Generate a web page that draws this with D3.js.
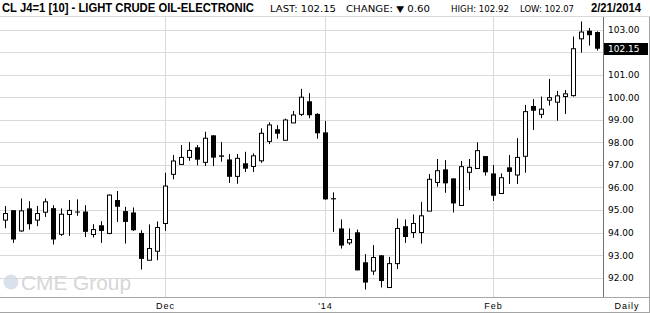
<!DOCTYPE html>
<html>
<head>
<meta charset="utf-8">
<script src="https://cdn.jsdelivr.net/npm/d3@7"></script>
<style>
  body { margin: 0; background: #fff; }
  svg { display: block; font-family: "Liberation Sans", Arial, sans-serif; }
  .small { font-family: "DejaVu Sans", Verdana, sans-serif; }
</style>
</head>
<body>
<svg id="chart" width="650" height="314"></svg>
<script>
// trading days, Nov 1 2013 .. Feb 21 2014
const dates = [
  "2013-11-01","2013-11-04","2013-11-05","2013-11-06","2013-11-07","2013-11-08",
  "2013-11-11","2013-11-12","2013-11-13","2013-11-14","2013-11-15",
  "2013-11-18","2013-11-19","2013-11-20","2013-11-21","2013-11-22",
  "2013-11-25","2013-11-26","2013-11-27","2013-11-29",
  "2013-12-02","2013-12-03","2013-12-04","2013-12-05","2013-12-06",
  "2013-12-09","2013-12-10","2013-12-11","2013-12-12","2013-12-13",
  "2013-12-16","2013-12-17","2013-12-18","2013-12-19","2013-12-20",
  "2013-12-23","2013-12-24","2013-12-27","2013-12-30","2013-12-31",
  "2014-01-02","2014-01-03","2014-01-06","2014-01-07","2014-01-08","2014-01-09","2014-01-10",
  "2014-01-13","2014-01-14","2014-01-15","2014-01-16","2014-01-17",
  "2014-01-21","2014-01-22","2014-01-23","2014-01-24",
  "2014-01-27","2014-01-28","2014-01-29","2014-01-30","2014-01-31",
  "2014-02-03","2014-02-04","2014-02-05","2014-02-06","2014-02-07",
  "2014-02-10","2014-02-11","2014-02-12","2014-02-13","2014-02-14",
  "2014-02-18","2014-02-19","2014-02-20","2014-02-21"
];

const open = [
  94.55,94.99,94.07,95.07,94.55,94.90,95.08,93.92,94.80,94.93,94.93,93.91,94.32,93.96,95.44,
  94.95,94.89,93.98,92.77,93.17,94.40,96.58,97.02,97.33,97.78,97.11,98.31,97.42,97.24,96.49,
  97.07,96.93,97.18,98.04,98.58,98.09,98.86,99.24,99.82,99.26,98.44,95.52,94.18,93.54,94.01,
  92.68,92.29,92.99,91.56,92.62,94.28,94.00,94.00,94.95,96.22,96.80,96.40,95.20,96.67,96.84,
  97.39,96.62,95.73,96.89,96.55,97.38,99.61,99.24,99.87,99.78,100.03,100.07,102.59,102.95,102.89
];
const high = [
  95.17,94.99,95.51,95.39,95.18,95.51,95.21,95.07,95.44,95.47,95.21,94.37,94.50,95.69,95.84,
  95.14,95.11,94.10,94.36,94.49,96.65,97.44,97.88,98.01,97.88,98.47,98.31,98.01,97.48,97.48,
  97.58,97.51,98.62,98.89,98.76,99.05,99.39,100.37,100.18,99.29,98.95,95.78,94.58,94.18,94.13,
  93.04,93.44,92.99,92.92,94.62,94.58,94.80,95.36,96.59,97.26,97.21,96.40,97.17,97.26,98.00,
  97.39,96.99,96.62,97.44,98.18,99.66,99.92,100.03,100.81,100.28,100.32,102.69,103.36,103.07,102.92
];
const low = [
  94.19,93.54,94.03,94.13,94.28,94.69,93.47,93.85,93.85,94.74,93.80,93.78,93.54,93.92,94.47,
  93.51,94.07,92.36,92.77,92.77,94.07,96.36,97.02,97.18,96.98,96.95,96.95,97.14,96.20,96.16,
  96.68,96.68,97.09,97.92,98.16,98.09,98.86,99.16,99.07,98.16,95.45,94.03,93.29,93.45,92.32,
  91.47,92.12,91.56,91.56,92.38,93.54,93.76,93.51,94.95,96.03,95.76,94.89,95.20,95.88,96.84,
  96.52,95.40,95.73,96.15,96.15,96.65,98.55,99.07,99.63,98.96,99.26,100.03,101.98,102.29,102.07
];
const close = [
  94.84,93.69,94.96,94.37,94.84,95.36,93.69,94.81,94.98,94.89,94.03,94.13,94.07,95.66,95.14,
  94.47,94.10,92.83,93.29,94.22,96.06,97.17,97.33,97.64,97.23,98.18,97.32,97.36,96.47,97.29,
  96.83,97.40,98.40,98.77,98.38,98.99,99.21,100.00,99.20,98.40,95.47,95.47,93.42,93.69,92.32,
  91.78,92.89,91.85,92.62,94.18,93.80,94.40,94.74,96.36,96.74,96.18,95.29,96.92,96.89,97.63,
  96.67,95.63,96.43,96.69,97.33,99.36,99.40,99.47,99.98,100.06,100.15,102.15,102.89,102.75,102.15
];

const priceTicks = [92, 93, 94, 95, 96, 97, 98, 99, 100, 101, 102, 103];
const monthTickDates = ["2013-12-02", "2014-01-02", "2014-02-03"];
const monthTickLabels = ["Dec", "'14", "Feb"];

const lastPrice = 102.15;
const headerTitle = "CL J4=1 [10] - LIGHT CRUDE OIL-ELECTRONIC";

const width = 650, height = 314;
const plotTop = 17, plotBottom = 297, axisX = 603;

const svg = d3.select("#chart");

const x = d3.scalePoint().domain(dates).range([5.5, 597.5]);
const y = d3.scaleLinear().domain([91.14, 103.557]).range([plotBottom, plotTop]);

// ---- header
const header = svg.append("g");
header.append("text")
  .attr("x", 2).attr("y", 12)
  .attr("font-size", 12).attr("font-weight", "bold")
  .attr("textLength", 252).attr("lengthAdjust", "spacingAndGlyphs")
  .text(headerTitle);

const info = [
  { t: "LAST: 102.15", x: 270, w: 66 },
  { t: "CHANGE: \u25BC 0.60", x: 346, w: 84 },
  { t: "HIGH: 102.92", x: 451, w: 58 },
  { t: "LOW: 102.07", x: 520, w: 54 }
];
header.selectAll("text.info")
  .data(info)
  .enter().append("text")
  .attr("class", "info small")
  .attr("x", (d) => d.x).attr("y", 11.5)
  .attr("font-size", 9)
  .attr("textLength", (d) => d.w).attr("lengthAdjust", "spacingAndGlyphs")
  .text((d) => d.t);

header.append("text")
  .attr("x", 591).attr("y", 12)
  .attr("font-size", 12).attr("font-weight", "bold")
  .attr("textLength", 50).attr("lengthAdjust", "spacingAndGlyphs")
  .text("2/21/2014");

// ---- watermark
const logo = svg.append("g");
logo.append("circle").attr("cx", 11).attr("cy", 282).attr("r", 7.5).attr("fill", "#d9e2ec");
logo.append("text")
  .attr("x", 21).attr("y", 290)
  .attr("font-size", 20).attr("fill", "#d6d6d6")
  .attr("textLength", 110).attr("lengthAdjust", "spacingAndGlyphs")
  .text("CME Group");

// ---- grid
svg.append("g")
  .selectAll("line")
  .data(priceTicks)
  .enter().append("line")
  .attr("x1", 0).attr("x2", axisX)
  .attr("y1", (d) => Math.round(y(d)) + 0.5).attr("y2", (d) => Math.round(y(d)) + 0.5)
  .attr("stroke", "#d9d9d9");

svg.append("g")
  .selectAll("line")
  .data(monthTickDates)
  .enter().append("line")
  .attr("x1", (d) => x(d)).attr("x2", (d) => x(d))
  .attr("y1", plotTop).attr("y2", plotBottom)
  .attr("stroke", "#d9d9d9");

// frame lines
svg.append("line").attr("x1", 0).attr("x2", width).attr("y1", plotTop - 0.5).attr("y2", plotTop - 0.5).attr("stroke", "#d9d9d9");
svg.append("line").attr("x1", 0).attr("x2", width).attr("y1", plotBottom + 0.5).attr("y2", plotBottom + 0.5).attr("stroke", "#a6a6a6");
svg.append("line").attr("x1", 0).attr("x2", width).attr("y1", 312.5).attr("y2", 312.5).attr("stroke", "#a6a6a6");
svg.append("line").attr("x1", axisX + 0.5).attr("x2", axisX + 0.5).attr("y1", plotTop).attr("y2", plotBottom).attr("stroke", "#707070");
svg.append("line").attr("x1", width - 0.5).attr("x2", width - 0.5).attr("y1", plotTop).attr("y2", 313).attr("stroke", "#a6a6a6");

// ---- candles
const idx = d3.range(dates.length);
const candles = svg.append("g").selectAll("g")
  .data(idx)
  .enter().append("g");

candles.append("line")
  .attr("x1", (i) => x(dates[i])).attr("x2", (i) => x(dates[i]))
  .attr("y1", (i) => y(high[i])).attr("y2", (i) => y(low[i]))
  .attr("stroke", "#000");

candles.append("rect")
  .attr("x", (i) => close[i] >= open[i] ? x(dates[i]) - 2 : x(dates[i]) - 2.5)
  .attr("width", (i) => close[i] >= open[i] ? 4 : 5)
  .attr("y", (i) => y(Math.max(open[i], close[i])))
  .attr("height", (i) => Math.max(1, y(Math.min(open[i], close[i])) - y(Math.max(open[i], close[i]))))
  .attr("fill", (i) => close[i] >= open[i] ? "#fff" : "#000")
  .attr("stroke", (i) => close[i] >= open[i] ? "#000" : "none");

// ---- price axis labels
svg.append("g")
  .selectAll("text")
  .data(priceTicks.filter((d) => Math.abs(d - lastPrice) > 0.4))
  .enter().append("text")
  .attr("class", "small")
  .attr("x", 608).attr("y", (d) => y(d) + 3.5)
  .attr("font-size", 9)
  .text((d) => d3.format(".2f")(d));

svg.append("rect")
  .attr("x", 604).attr("y", Math.round(y(lastPrice)) - 6)
  .attr("width", 44).attr("height", 12)
  .attr("fill", "#000");
svg.append("text")
  .attr("class", "small")
  .attr("x", 608).attr("y", y(lastPrice) + 3.5)
  .attr("font-size", 9).attr("fill", "#fff")
  .text(d3.format(".2f")(lastPrice));

// ---- time axis labels
svg.append("g")
  .selectAll("text")
  .data(monthTickDates)
  .enter().append("text")
  .attr("x", (d) => x(d)).attr("y", 309)
  .attr("text-anchor", "middle")
  .attr("font-size", 9).attr("letter-spacing", 1)
  .text((d, i) => monthTickLabels[i]);

svg.append("text")
  .attr("x", 627).attr("y", 309)
  .attr("text-anchor", "middle")
  .attr("font-size", 9).attr("letter-spacing", 1)
  .text("Daily");
</script>
</body>
</html>
